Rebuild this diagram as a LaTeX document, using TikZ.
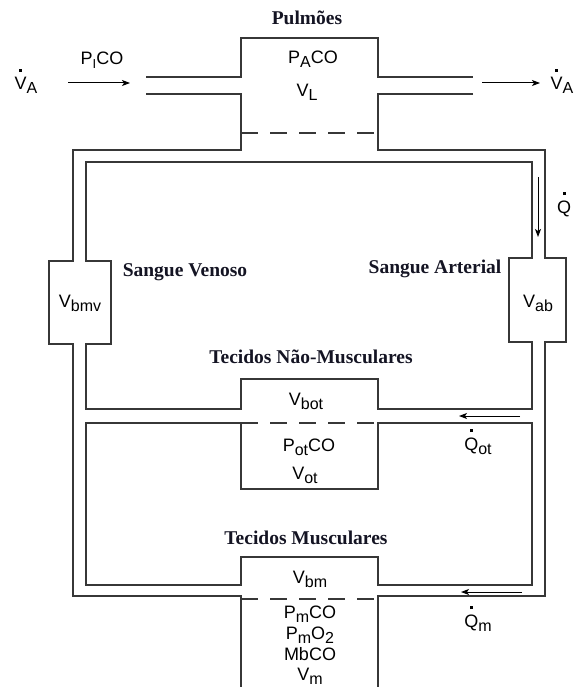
\documentclass[tikz,border=0pt]{standalone}
\usepackage{fontspec}
\setmainfont{Liberation Serif}
\newfontfamily\lsans{Liberation Sans}
\usetikzlibrary{arrows.meta}
\definecolor{wallc}{RGB}{55,55,55}
\definecolor{titc}{RGB}{20,20,35}
\newsavebox\dotbox
\newcommand{\sbx}[1]{\raisebox{-4pt}{\fontsize{16}{16}\selectfont #1}}
\newcommand{\dotc}[1]{\sbox\dotbox{#1}\rlap{\makebox[\wd\dotbox]{\raisebox{18pt}{\rule{3pt}{3pt}}}}\usebox\dotbox}
\tikzset{
  wall/.style={draw=wallc, line width=1.4pt, line join=miter},
  dashwall/.style={draw=wallc, line width=1.4pt, dash pattern=on 17pt off 12pt},
  flow/.style={draw=black, line width=1pt, -{Stealth[length=8pt,width=6pt,inset=2pt]}},
  lab/.style={font=\lsans\fontsize{18}{21}\selectfont, inner sep=0pt, anchor=base},
  ttl/.style={font=\bfseries\fontsize{19.5}{22}\selectfont, text=titc, inner sep=0pt, anchor=base},
}
\begin{document}
\begin{tikzpicture}[x=1pt,y=-1pt]
\useasboundingbox (0,0) rectangle (585,687);
% lungs and outer walls
\draw[wall] (146,77) -- (241,77) -- (241,38) -- (378,38) -- (378,77) -- (473,77);
\draw[wall] (146,94) -- (241,94) -- (241,150) -- (73,150) -- (73,261) -- (49,261) -- (49,344) -- (73,344) -- (73,596) -- (241,596) -- (241,687);
\draw[wall] (473,94) -- (378,94) -- (378,150) -- (545,150) -- (545,258) -- (566,258) -- (566,342) -- (545,342) -- (545,596) -- (378,596) -- (378,687);
\draw[dashwall] (241,133) -- (378,133);
% inner upper loop
\draw[wall] (86,162) -- (532,162) -- (532,258) -- (509,258) -- (509,342) -- (532,342) -- (532,409) -- (378,409) -- (378,379) -- (241,379) -- (241,409) -- (86,409) -- (86,344) -- (111,344) -- (111,261) -- (86,261) -- cycle;
% inner lower loop
\draw[wall] (241,423) -- (86,423) -- (86,585) -- (241,585) -- (241,557) -- (378,557) -- (378,585) -- (532,585) -- (532,423) -- (378,423) -- (378,489) -- (241,489) -- cycle;
\draw[dashwall] (241,423) -- (378,423);
\draw[dashwall] (241,599) -- (378,599);
% arrows
\coordinate (inA) at (68,83);  \coordinate (inB) at (130,83);
\coordinate (outA) at (482,83); \coordinate (outB) at (540,83);
\coordinate (qA) at (538,177); \coordinate (qB) at (538,237);
\coordinate (otA) at (520,416); \coordinate (otB) at (459,416);
\coordinate (mA) at (522,592); \coordinate (mB) at (461,592);
\draw[flow] (inA) -- (inB);
\draw[flow] (outA) -- (outB);
\draw[flow] (qA) -- (qB);
\draw[flow] (otA) -- (otB);
\draw[flow] (mA) -- (mB);
% labels
\node[lab] (vaL) at (26,90) {\dotc{V}\sbx{A}};
\node[lab] (vaR) at (562,90) {\dotc{V}\sbx{A}};
\node[lab] (pico) at (102,65) {P\sbx{\fontsize{13}{13}\selectfont I}CO};
\node[ttl] (pulm) at (307,25) {Pulmões};
\node[lab] (paco) at (313,64) {P\sbx{A}CO};
\node[lab] (vl) at (307,97) {V\sbx{L}};
\node[ttl] (sv) at (185,276) {Sangue Venoso};
\node[ttl] (sa) at (435,273) {Sangue Arterial};
\node[lab] (vbmv) at (80,307) {V\sbx{bmv}};
\node[lab] (vab) at (538,307) {V\sbx{ab}};
\node[lab] (q) at (564,213) {\dotc{Q}};
\node[ttl] (tnm) at (311,363) {Tecidos Não-Musculares};
\node[lab] (vbot) at (306,405) {V\sbx{bot}};
\node[lab] (potco) at (309,451) {P\sbx{ot}CO};
\node[lab] (vot) at (305,479) {V\sbx{ot}};
\node[lab] (qot) at (478,450) {\dotc{Q}\sbx{ot}};
\node[ttl] (tm) at (306,544) {Tecidos Musculares};
\node[lab] (vbm) at (310,583) {V\sbx{bm}};
\node[lab] (pmco) at (310,618) {P\sbx{m}CO};
\node[lab] (pmo2) at (310,639) {P\sbx{m}O\sbx{2}};
\node[lab] (mbco) at (310,660) {MbCO};
\node[lab] (vm) at (310,680) {V\sbx{m}};
\node[lab] (qm) at (478,627) {\dotc{Q}\sbx{m}};
\end{tikzpicture}
\end{document}
